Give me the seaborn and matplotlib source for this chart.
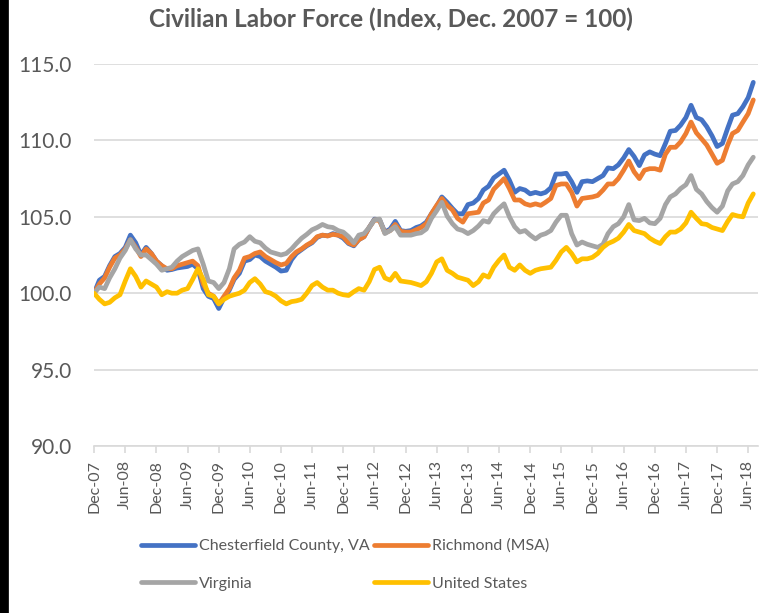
import pandas as pd
import numpy as np
import matplotlib
matplotlib.use('Agg')
import matplotlib.pyplot as plt
import matplotlib.dates as mdates
from matplotlib.lines import Line2D
import seaborn as sns

# ----------------- Data (index, Dec. 2007 = 100) ----------------
months = pd.date_range('2007-12-01', periods=128, freq='MS')

chesterfield = [100.0, 100.85, 101.1, 101.8, 102.4, 102.6, 103.0, 103.8, 103.3, 102.5,
                103.0, 102.6, 102.1, 101.8, 101.5, 101.55, 101.65, 101.7, 101.75, 101.9,
                101.6, 100.3, 99.8, 99.65, 99.0, 99.7, 100.2, 100.9, 101.3, 102.1,
                102.2, 102.5, 102.4, 102.1, 101.9, 101.7, 101.45, 101.5, 102.2, 102.6,
                102.85, 103.1, 103.3, 103.65, 103.8, 103.75, 103.9, 103.8, 103.6, 103.25,
                103.1, 103.5, 103.7, 104.3, 104.85, 104.8, 104.0, 104.2, 104.7, 104.1,
                104.05, 104.1, 104.3, 104.4, 104.65, 105.2, 105.7, 106.3, 105.95, 105.55,
                105.2, 105.2, 105.8, 105.9, 106.2, 106.75, 107.0, 107.55, 107.8, 108.05,
                107.4, 106.6, 106.85, 106.75, 106.5, 106.6, 106.5, 106.6, 106.9, 107.8,
                107.8, 107.85, 107.3, 106.6, 107.3, 107.35, 107.3, 107.5, 107.7, 108.2,
                108.15, 108.4, 108.85, 109.4, 108.95, 108.35, 109.05, 109.25, 109.1, 109.0,
                109.8, 110.6, 110.65, 111.0, 111.5, 112.3, 111.5, 111.35, 110.9, 110.3,
                109.6, 109.8, 110.8, 111.65, 111.75, 112.2, 112.8, 113.8]

richmond = [100.0, 100.6, 101.0, 101.7, 102.3, 102.5, 102.9, 103.5, 103.0, 102.4,
            102.9, 102.6, 102.1, 101.8, 101.6, 101.6, 101.8, 101.9, 102.0, 102.1,
            101.8, 100.6, 100.0, 99.8, 99.3, 99.8, 100.3, 101.0, 101.5, 102.3,
            102.4, 102.6, 102.7, 102.4, 102.2, 102.0, 101.85, 101.95, 102.4, 102.7,
            102.9, 103.15, 103.35, 103.7, 103.8, 103.75, 103.85, 103.8, 103.7, 103.3,
            103.15, 103.5, 103.7, 104.3, 104.8, 104.75, 103.95, 104.1, 104.5, 104.05,
            104.0, 104.0, 104.15, 104.3, 104.55, 105.2, 105.75, 106.2, 105.75, 105.45,
            104.9, 104.65, 105.2, 105.25, 105.3, 105.9, 106.1, 106.8, 107.15, 107.5,
            106.85, 106.1, 106.1, 105.85, 105.75, 105.85, 105.75, 105.95, 106.2, 107.05,
            107.15, 107.15, 106.6, 105.7, 106.2, 106.25, 106.3, 106.4, 106.75, 107.15,
            107.15, 107.5, 108.05, 108.65, 107.95, 107.5, 108.05, 108.15, 108.15, 108.05,
            109.1, 109.55, 109.55, 109.9, 110.45, 111.2, 110.5, 110.1, 109.7, 109.1,
            108.5, 108.7, 109.7, 110.45, 110.65, 111.2, 111.75, 112.65]

virginia = [100.0, 100.4, 100.3, 101.0, 101.6, 102.3, 102.8, 103.5, 102.9, 102.5,
            102.5, 102.2, 101.9, 101.5, 101.6, 101.7, 102.1, 102.4, 102.6, 102.8,
            102.9, 101.9, 100.8, 100.7, 100.3, 100.7, 101.6, 102.9, 103.2, 103.35,
            103.7, 103.4, 103.3, 102.95, 102.7, 102.6, 102.5, 102.6, 102.9, 103.25,
            103.6, 103.85, 104.15, 104.3, 104.5, 104.35, 104.3, 104.1, 104.0, 103.7,
            103.3, 103.8, 103.9, 104.3, 104.8, 104.85, 103.9, 104.1, 104.35, 103.8,
            103.8, 103.8, 103.9, 103.95, 104.2, 104.9, 105.4, 105.95, 105.05, 104.55,
            104.2, 104.1, 103.9, 104.1, 104.4, 104.75, 104.65, 105.2, 105.55, 105.85,
            105.0, 104.35, 104.0, 104.1, 103.8, 103.55, 103.8, 103.9, 104.1, 104.65,
            105.1, 105.1, 103.9, 103.15, 103.35, 103.2, 103.1, 103.0, 103.2, 103.9,
            104.35, 104.55, 105.0, 105.8, 104.8, 104.75, 104.9, 104.6, 104.55, 104.9,
            105.8, 106.3, 106.5, 106.85, 107.1, 107.7, 106.8, 106.5, 106.0, 105.6,
            105.3, 105.7, 106.7, 107.15, 107.3, 107.7, 108.4, 108.9]

united_states = [100.0, 99.6, 99.3, 99.4, 99.7, 99.9, 100.8, 101.6, 101.1, 100.4,
                 100.8, 100.6, 100.4, 99.9, 100.1, 100.0, 100.0, 100.2, 100.3, 100.9,
                 101.6, 100.9, 99.9, 99.8, 99.3, 99.6, 99.8, 99.9, 100.0, 100.2,
                 100.7, 100.95, 100.6, 100.1, 100.0, 99.8, 99.5, 99.3, 99.45, 99.5,
                 99.6, 100.0, 100.5, 100.7, 100.4, 100.2, 100.2, 100.0, 99.9, 99.85,
                 100.1, 100.3, 100.2, 100.75, 101.55, 101.7, 101.0, 100.85, 101.3, 100.8,
                 100.75, 100.7, 100.6, 100.5, 100.75, 101.3, 102.05, 102.25, 101.5, 101.3,
                 101.05, 100.95, 100.85, 100.5, 100.75, 101.2, 101.05, 101.7, 102.15, 102.5,
                 101.7, 101.5, 101.85, 101.5, 101.3, 101.5, 101.6, 101.65, 101.7, 102.15,
                 102.7, 103.0, 102.6, 102.05, 102.25, 102.25, 102.35, 102.6, 103.0, 103.25,
                 103.4, 103.6, 104.0, 104.5, 104.1, 104.0, 103.9, 103.6, 103.4, 103.25,
                 103.7, 104.0, 104.0, 104.2, 104.6, 105.3, 104.9, 104.55, 104.5, 104.3,
                 104.2, 104.1, 104.7, 105.15, 105.05, 105.0, 105.9, 106.5]

series_names = ['Chesterfield County, VA', 'Richmond (MSA)', 'Virginia', 'United States']
series_colors = ['#4472C4', '#ED7D31', '#A5A5A5', '#FFC000']

# ----------------- Long format for seaborn ----------------
df = pd.DataFrame({'Month': months,
                   series_names[0]: chesterfield,
                   series_names[1]: richmond,
                   series_names[2]: virginia,
                   series_names[3]: united_states})
df_long = df.melt(id_vars='Month', var_name='Area', value_name='Index')

# --- Style ---
sns.set_style('white')
plt.rcParams['font.family'] = ['Lato', 'DejaVu Sans']
text_gray = '#595959'

fig = plt.figure(figsize=(7.71, 6.13), dpi=100)
ax = fig.add_axes([0.122, 0.2724, 0.861, 0.6232])

sns.lineplot(data=df_long, x='Month', y='Index', hue='Area', hue_order=series_names,
             palette=series_colors, linewidth=3.4, ax=ax, legend=False)
for line in ax.lines:
    line.set_solid_joinstyle('round')
    line.set_solid_capstyle('round')

# --- Axes ---
ax.set_ylim(90, 115)
ax.set_yticks(np.arange(90, 115.1, 5))
ax.yaxis.set_major_formatter(plt.FuncFormatter(lambda v, p: f'{v:.1f}'))
ax.set_xlim(months[0], pd.Timestamp('2018-07-28'))
ax.xaxis.set_major_locator(mdates.MonthLocator(bymonth=[6, 12]))
ax.xaxis.set_major_formatter(mdates.DateFormatter('%b-%y'))
ax.set_xlabel('')
ax.set_ylabel('')

ax.grid(axis='y', color='#D9D9D9', linewidth=1.2)
ax.grid(axis='x', visible=False)
ax.set_axisbelow(True)
for side in ['top', 'right', 'left']:
    ax.spines[side].set_visible(False)
ax.spines['bottom'].set_color('#D9D9D9')
ax.spines['bottom'].set_linewidth(1.2)

ax.tick_params(axis='y', length=0, pad=16, labelsize=15, labelcolor=text_gray)
ax.tick_params(axis='x', length=5, width=1.2, color='#D9D9D9', pad=5,
               labelsize=11.5, labelcolor=text_gray, rotation=90, direction='out')
ax.xaxis.set_tick_params(bottom=True)

# --- Title ---
fig.text(0.507, 0.968, 'Civilian Labor Force (Index, Dec. 2007 = 100)',
         ha='center', va='center', fontsize=17.5, fontweight='bold', color=text_gray)

# --- Legend (row order: Chesterfield, Richmond / Virginia, United States) ---
handles = [Line2D([0], [0], color=c, linewidth=3.4, solid_capstyle='round') for c in series_colors]
order = [0, 2, 1, 3]
fig.legend([handles[i] for i in order], [series_names[i] for i in order],
           loc='upper left', bbox_to_anchor=(0.183, 0.121),
           ncol=2, frameon=False, fontsize=11.5, labelcolor=text_gray,
           handlelength=3.4, handletextpad=0.2, columnspacing=0.3, labelspacing=1.45,
           borderaxespad=0, borderpad=0)

# --- Black frame edge ---
fig.add_artist(Line2D([0.005, 0.005], [0, 1], color='black', linewidth=7, transform=fig.transFigure))

fig.savefig('out.png', dpi=100)
